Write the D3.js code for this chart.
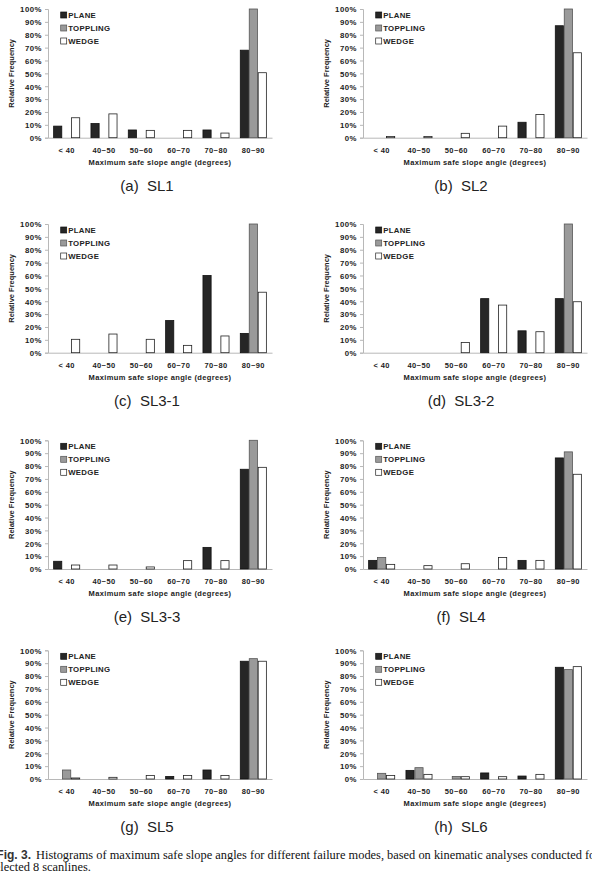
<!DOCTYPE html>
<html>
<head>
<meta charset="utf-8">
<script src="https://cdn.jsdelivr.net/npm/d3@7"></script>
<style>
  body { margin: 0; background: #fff; }
  svg { display: block; }
  .axis text { font-family: "Liberation Sans", Arial, sans-serif; font-weight: bold; font-size: 7.5px; fill: #222; }
  .yaxis text { font-size: 7.8px; letter-spacing: 0.5px; }
  .xaxis text { letter-spacing: 0.4px; }
  .axis path, .axis line { stroke: #b8b8b8; }
</style>
</head>
<body>
<div id="svgcontainer"></div>
<script>
/**
 * data (relative frequency, %)
 */
var categories = ["< 40", "40~50", "50~60", "60~70", "70~80", "80~90"];
var series = ["PLANE", "TOPPLING", "WEDGE"];
var panelLabels = ["(a)  SL1", "(b)  SL2", "(c)  SL3-1", "(d)  SL3-2",
                   "(e)  SL3-3", "(f)  SL4", "(g)  SL5", "(h)  SL6"];
var yTicks = [0, 10, 20, 30, 40, 50, 60, 70, 80, 90, 100];

// one row per panel, one value per category
var plane = [
    [9, 11, 6, 0, 6, 68],
    [0, 0, 0, 0, 12, 87],
    [0, 0, 0, 25, 60, 15],
    [0, 0, 0, 42, 17, 42],
    [6, 0, 0, 0, 16.8, 77.5],
    [6.7, 0, 0, 0, 6.7, 86.3],
    [0, 0, 0, 2, 7, 91.5],
    [0, 6.7, 0, 4.7, 2.3, 86.8]
];
var toppling = [
    [0, 0, 0, 0, 0, 100],
    [0, 0, 0, 0, 0, 100],
    [0, 0, 0, 0, 0, 100],
    [0, 0, 0, 0, 0, 100],
    [0, 0, 0, 0, 0, 100],
    [9, 0, 0, 0, 0, 91],
    [7, 0, 0, 0, 0, 93.5],
    [4.4, 8.8, 2, 0, 0, 85]
];
var wedge = [
    [15.5, 18.5, 5.7, 5.7, 3.6, 50.5],
    [1, 1, 3.4, 9, 18, 66],
    [10.4, 14.5, 10.4, 5.7, 13, 47],
    [0, 0, 8, 37, 16.3, 39.6],
    [3.1, 3.1, 1.6, 6.5, 6.5, 79],
    [3.6, 2.6, 4.1, 9, 6.7, 73.6],
    [0.8, 1.3, 2.8, 2.8, 2.8, 91.5],
    [2.8, 3.6, 1.8, 1.8, 3.6, 87.3]
];

/**
 * layout of the 2 x 4 grid
 */
var W = 592, H = 875;
var plotW = 224, plotH = 128.7;
var colX = [48, 363];              // left edge of each plot area
var rowY = [9, 224, 440.3, 650.3]; // top (100%) of each plot area
var captionX = [147, 461];
var captionDy = [53, 53, 52.7, 52.7];

var fills = { PLANE: "#262626", TOPPLING: "#9a9a9a", WEDGE: "#ffffff" };
var strokes = { PLANE: "#111", TOPPLING: "#555", WEDGE: "#222" };

var svg = d3.select("#svgcontainer")
    .append("svg")
    .attr("width", W)
    .attr("height", H);

var x0 = d3.scaleBand()
    .domain(categories)
    .range([0, plotW])
    .paddingInner(0.28)
    .paddingOuter(0.14);

var x1 = d3.scaleBand()
    .domain(series)
    .range([0, x0.bandwidth()]);

var y = d3.scaleLinear()
    .domain([0, 100])
    .range([plotH, 0]);

panelLabels.forEach(function(label, p) {
    var col = p % 2, row = Math.floor(p / 2);
    var g = svg.append("g")
        .attr("transform", "translate(" + colX[col] + "," + rowY[row] + ")");

    var values = { PLANE: plane[p], TOPPLING: toppling[p], WEDGE: wedge[p] };

    // y axis
    g.append("g")
        .attr("class", "axis yaxis")
        .call(d3.axisLeft(y).tickValues(yTicks).tickSize(3).tickPadding(3)
            .tickFormat(function(d) { return d + "%"; }))
        .call(function(a) { a.selectAll("text").attr("dy", "0.36em"); });

    // x axis
    g.append("g")
        .attr("class", "axis xaxis")
        .attr("transform", "translate(0," + plotH + ")")
        .call(d3.axisBottom(x0).tickSize(0).tickPadding(9.5).tickSizeOuter(0));

    // bars
    var groups = g.append("g")
        .selectAll("g")
        .data(categories)
        .join("g")
        .attr("transform", function(c) { return "translate(" + x0(c) + ",0)"; });

    groups.selectAll("rect")
        .data(function(c, i) {
            return series.map(function(s) { return { s: s, v: values[s][i] }; })
                .filter(function(d) { return d.v > 0; });
        })
        .join("rect")
        .attr("x", function(d) { return x1(d.s) + 0.4; })
        .attr("y", function(d) { return y(d.v); })
        .attr("width", x1.bandwidth() - 0.8)
        .attr("height", function(d) { return y(0) - y(d.v); })
        .attr("fill", function(d) { return fills[d.s]; })
        .attr("stroke", function(d) { return strokes[d.s]; })
        .attr("stroke-width", 0.8);

    // legend
    var legend = g.append("g")
        .selectAll("g")
        .data(series)
        .join("g")
        .attr("transform", function(d, i) { return "translate(12.7," + (6 + i * 13) + ")"; });
    legend.append("rect")
        .attr("x", 0).attr("y", -3)
        .attr("width", 6).attr("height", 6)
        .attr("fill", function(d) { return fills[d]; })
        .attr("stroke", function(d) { return strokes[d]; })
        .attr("stroke-width", 0.7);
    legend.append("text")
        .attr("x", 7.5)
        .attr("dy", "0.36em")
        .style("font-family", "Liberation Sans, Arial, sans-serif")
        .style("font-weight", "bold")
        .style("font-size", "7.8px")
        .style("letter-spacing", "0.3px")
        .attr("fill", "#222")
        .text(function(d) { return d; });

    // axis titles
    g.append("text")
        .attr("x", plotW / 2)
        .attr("y", plotH + 27)
        .attr("text-anchor", "middle")
        .style("font-family", "Liberation Sans, Arial, sans-serif")
        .style("font-weight", "bold")
        .style("font-size", "7.5px")
        .style("letter-spacing", "0.35px")
        .attr("fill", "#222")
        .text("Maximum safe slope angle (degrees)");

    g.append("text")
        .attr("transform", "translate(-34.3," + (plotH / 2) + ") rotate(-90)")
        .attr("text-anchor", "middle")
        .style("font-family", "Liberation Sans, Arial, sans-serif")
        .style("font-weight", "bold")
        .style("font-size", "7.5px")
        .attr("fill", "#222")
        .text("Relative Frequency");

    // panel caption
    svg.append("text")
        .attr("x", captionX[col])
        .attr("y", rowY[row] + plotH + captionDy[row])
        .attr("text-anchor", "middle")
        .style("white-space", "pre")
        .style("font-family", "Liberation Sans, Arial, sans-serif")
        .style("font-size", "15px")
        .attr("fill", "#222")
        .text(label);
});

/**
 * figure caption (runs past the page edges as in the source)
 */
var cap = svg.append("g")
    .style("font-family", "Liberation Serif, 'Times New Roman', serif")
    .style("font-size", "12.4px")
    .attr("fill", "#111");
cap.append("text")
    .attr("x", 31).attr("y", 859)
    .attr("text-anchor", "end")
    .style("font-weight", "bold")
    .style("font-family", "Liberation Sans, Arial, sans-serif")
    .style("font-size", "12px")
    .attr("fill", "#333")
    .text("Fig. 3.");
cap.append("text")
    .attr("x", 36).attr("y", 859)
    .text("Histograms of maximum safe slope angles for different failure modes, based on kinematic analyses conducted for");
cap.append("text")
    .attr("x", -10).attr("y", 871)
    .text("selected 8 scanlines.");
</script>
</body>
</html>
